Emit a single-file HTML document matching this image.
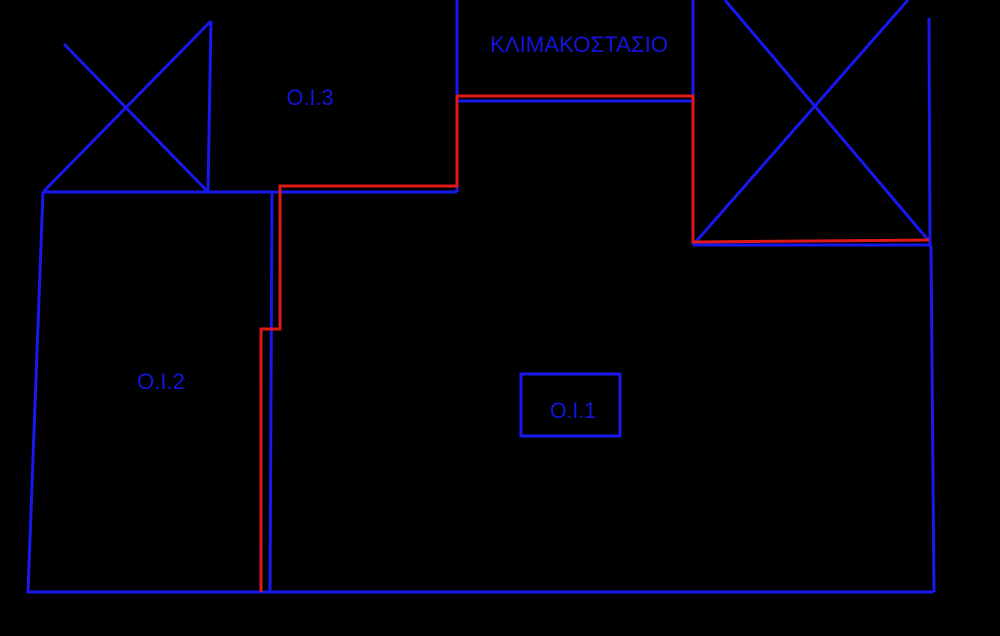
<!DOCTYPE html>
<html><head><meta charset="utf-8"><style>
html,body{margin:0;padding:0;background:#000;}
svg{display:block;}
text{font-family:"Liberation Sans",sans-serif;fill:#1414e0;}
</style></head><body>
<svg width="1000" height="636" viewBox="0 0 1000 636">
<rect width="1000" height="636" fill="#000"/>
<g stroke="#1818ee" stroke-width="3" fill="none">
<polyline points="211,21 208,192"/>
<line x1="43" y1="192" x2="211" y2="21"/>
<line x1="64" y1="44" x2="208" y2="192"/>
<line x1="43" y1="192" x2="457" y2="192"/>
<polyline points="43,192 28,592 934,592"/>
<line x1="272" y1="192" x2="270" y2="592"/>
<line x1="457" y1="0" x2="457" y2="192"/>
<line x1="457" y1="101" x2="693" y2="101"/>
<line x1="693" y1="0" x2="693" y2="245"/>
<line x1="693" y1="245" x2="931" y2="245"/>
<line x1="693" y1="245" x2="908" y2="0"/>
<line x1="725" y1="0" x2="929" y2="241"/>
<line x1="929" y1="18" x2="930" y2="245"/>
<line x1="931" y1="245" x2="934" y2="592"/>
<rect x="521" y="374" width="99" height="62"/>
</g>
<polyline points="261,592 261,329 280,329 280,186 457,186 457,96 693,96 693,242 929,240" stroke="#e01818" stroke-width="3" fill="none"/>
<text x="579" y="52" font-size="22" text-anchor="middle" textLength="178" lengthAdjust="spacingAndGlyphs">ΚΛΙΜΑΚΟΣΤΑΣΙΟ</text>
<text x="310" y="105" font-size="22" text-anchor="middle" textLength="47" lengthAdjust="spacingAndGlyphs">O.I.3</text>
<text x="161" y="389" font-size="22" text-anchor="middle" textLength="48" lengthAdjust="spacingAndGlyphs">O.I.2</text>
<text x="573" y="418" font-size="22" text-anchor="middle" textLength="46" lengthAdjust="spacingAndGlyphs">O.I.1</text>
</svg>
</body></html>
